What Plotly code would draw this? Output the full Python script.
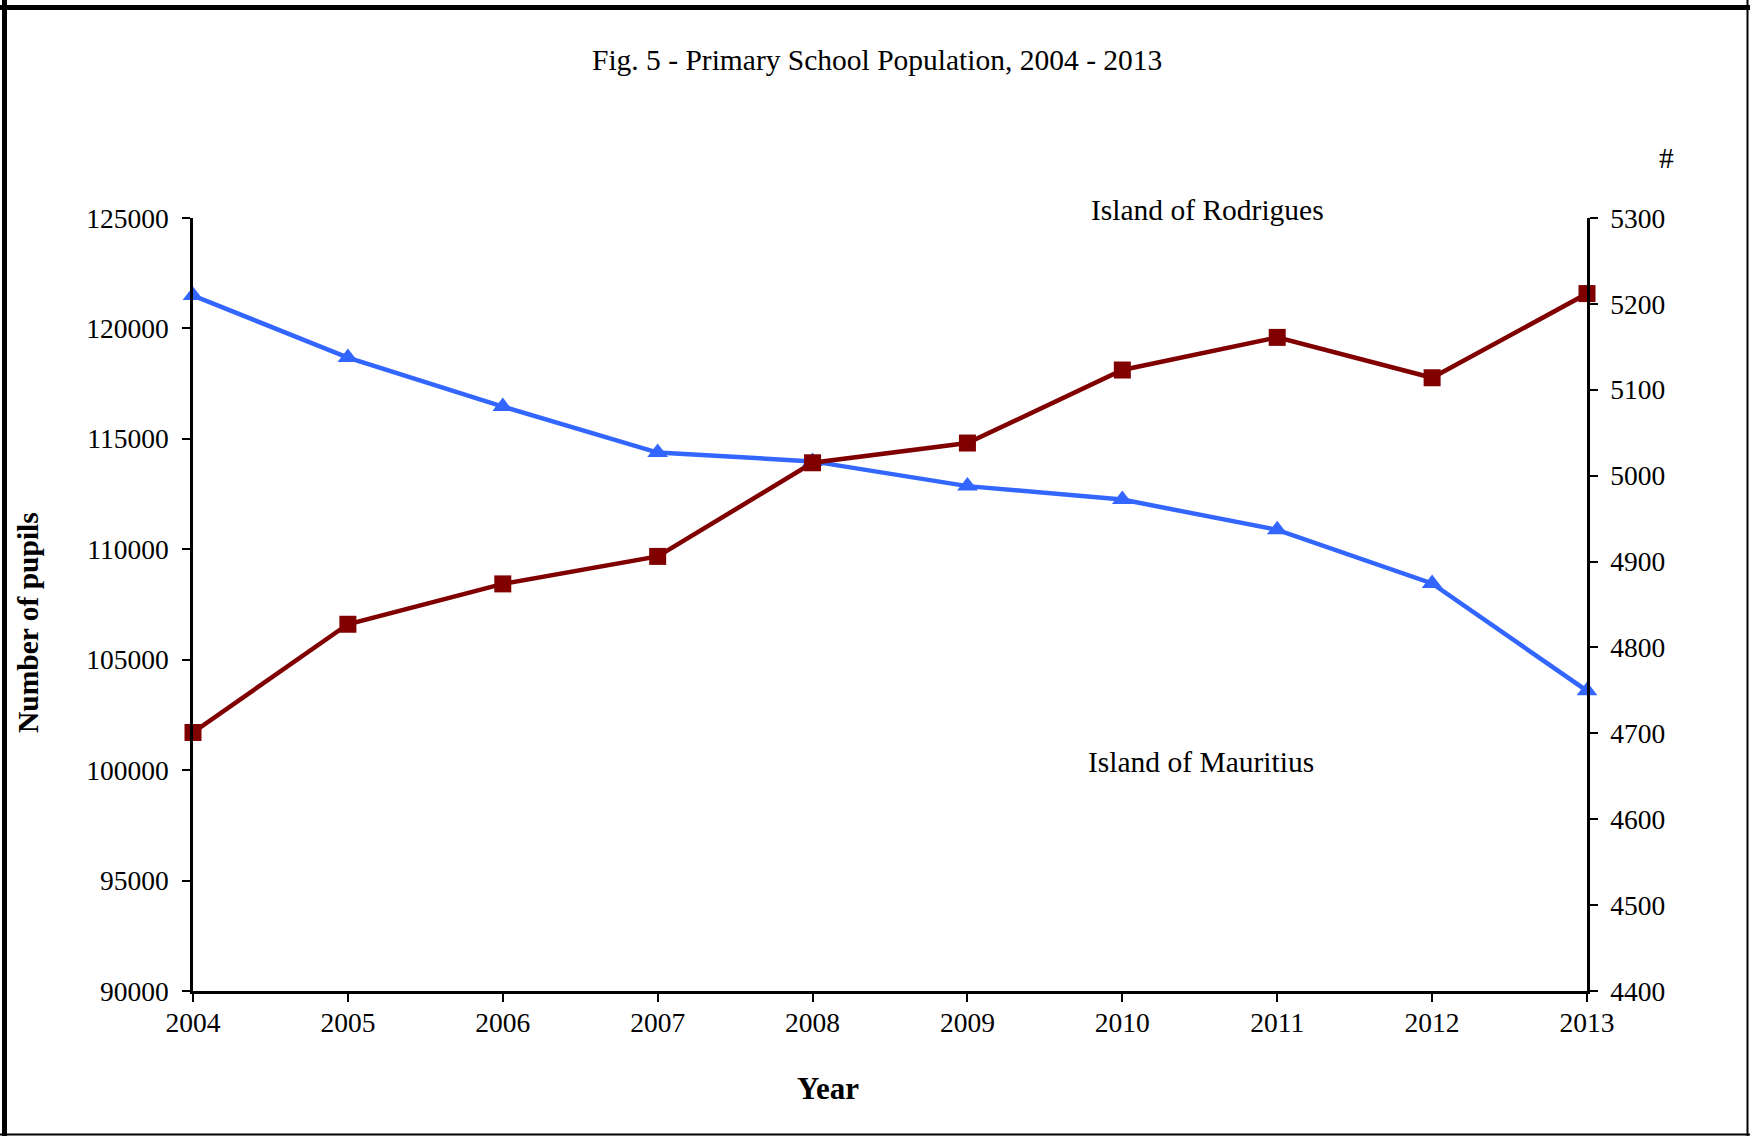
import plotly.graph_objects as go

years = [2004, 2005, 2006, 2007, 2008, 2009, 2010, 2011, 2012, 2013]
mauritius = [121490, 118680, 116460, 114380, 113980, 112860, 112250, 110880, 108455, 103590]
rodrigues = [4701, 4827, 4874, 4906, 5015, 5038, 5123, 5161, 5114, 5212]
left_ticks = [90000, 95000, 100000, 105000, 110000, 115000, 120000, 125000]
right_ticks = [4400, 4500, 4600, 4700, 4800, 4900, 5000, 5100, 5200, 5300]

FONT = "Liberation Serif, Times New Roman, serif"
BLUE = "#3366FF"
RED = "#800000"
TICK_SIZE = 27.5
TEXT_SIZE = 29.5

fig = go.Figure()
fig.add_trace(go.Scatter(
    x=years, y=mauritius, mode="lines+markers", name="Island of Mauritius",
    line=dict(color=BLUE, width=4.5),
    marker=dict(symbol="triangle-up", size=18, color=BLUE),
    yaxis="y", cliponaxis=False,
))
fig.add_trace(go.Scatter(
    x=years, y=rodrigues, mode="lines+markers", name="Island of Rodrigues",
    line=dict(color=RED, width=4.5),
    marker=dict(symbol="square", size=17, color=RED),
    yaxis="y2", cliponaxis=False,
))

W, H = 1750, 1136
L, R, T, B = 193, 1587, 218, 991

def px(x):
    return (x - L) / (R - L)

def py(y):
    return (B - y) / (B - T)

axis_common = dict(
    showgrid=False, zeroline=False, showline=True, linecolor="black",
    ticks="outside", ticklen=8, tickwidth=2, tickcolor="black",
    tickfont=dict(family=FONT, size=TICK_SIZE, color="black"),
)

fig.update_layout(
    width=W, height=H,
    margin=dict(l=L, r=W - R, t=T, b=H - B, pad=0),
    paper_bgcolor="white", plot_bgcolor="white",
    showlegend=False,
    font=dict(family=FONT, size=TICK_SIZE, color="black"),
    xaxis=dict(range=[2004, 2013], tickvals=years, ticktext=[str(y) for y in years],
               linewidth=3, ticklabelstandoff=-3, **axis_common),
    yaxis=dict(range=[90000, 125000], tickvals=left_ticks,
               ticktext=[str(v) for v in left_ticks],
               linewidth=2.5, ticklabelstandoff=8, **axis_common),
    yaxis2=dict(range=[4400, 5300], tickvals=right_ticks,
                ticktext=[str(v) for v in right_ticks],
                overlaying="y", side="right", anchor="x",
                linewidth=2.5, ticklabelstandoff=7, **axis_common),
)

ann = [
    dict(text="Fig. 5 - Primary School Population, 2004 - 2013", x=px(877), y=py(60)),
    dict(text="#", x=px(1666.7), y=py(158)),
    dict(text="Island of Rodrigues", x=px(1207.5), y=py(210)),
    dict(text="Island of Mauritius", x=px(1201), y=py(762)),
    dict(text="<b>Year</b>", x=px(828), y=py(1088), font_size=31),
    dict(text="<b>Number of pupils</b>", x=px(28), y=py(623), textangle=-90),
]
for a in ann:
    f = dict(family=FONT, size=a.pop("font_size", TEXT_SIZE), color="black")
    fig.add_annotation(xref="paper", yref="paper", showarrow=False,
                       xanchor="center", yanchor="middle", font=f, **a)

# outer frame
frame = [
    (px(0), py(7.5), px(W), py(7.5), 5),
    (px(4.5), py(0), px(4.5), py(H), 5),
    (px(1747.5), py(0), px(1747.5), py(H), 2),
    (px(0), py(1134.5), px(W), py(1134.5), 2),
]
for x0, y0, x1, y1, w in frame:
    fig.add_shape(type="line", xref="paper", yref="paper",
                  x0=x0, y0=y0, x1=x1, y1=y1, line=dict(color="black", width=w))

fig.write_html("out.html", config={"displayModeBar": False},
               post_script="document.body.style.margin='0px';")
